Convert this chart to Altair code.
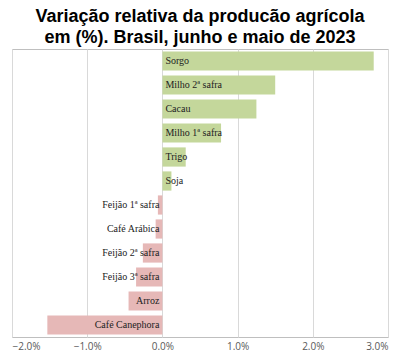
import altair as alt
import pandas as pd

categories = ["Sorgo", "Milho 2ª safra", "Cacau", "Milho 1ª safra", "Trigo", "Soja",
              "Feijão 1ª safra", "Café Arábica", "Feijão 2ª safra", "Feijão 3ª safra",
              "Arroz", "Café Canephora"]
values = [2.81, 1.50, 1.25, 0.78, 0.31, 0.12, -0.06, -0.09, -0.26, -0.35, -0.45, -1.53]
ticks = [-2, -1, 0, 1, 2, 3]

df = pd.DataFrame({"cat": categories, "val": values})
df["sign"] = ["pos" if v >= 0 else "neg" for v in values]

y = alt.Y("cat:N", sort=categories, axis=None,
          scale=alt.Scale(paddingInner=0.2, paddingOuter=0.1))
x = alt.X("val:Q", scale=alt.Scale(domain=[-2, 3], nice=False),
          axis=alt.Axis(values=ticks, title=None, labelExpr="format(datum.value, '.1f') + '%'",
                        grid=True, gridColor="#d9d9d9", domain=False, ticks=False,
                        labelColor="#595959", labelFont="Open Sans", labelFontSize=10,
                        labelPadding=4))

bars = alt.Chart(df).mark_bar().encode(
    x=x, y=y,
    color=alt.Color("sign:N", scale=alt.Scale(domain=["pos", "neg"], range=["#c4d79b", "#e6b8b7"]),
                    legend=None),
)

pos_txt = alt.Chart(df).transform_filter("datum.val >= 0").mark_text(
    align="left", dx=3, font="Liberation Serif", fontSize=10, color="#222222"
).encode(x=alt.X("zero:Q"), y=y, text="cat:N").transform_calculate(zero="0")

neg_txt = alt.Chart(df).transform_filter("datum.val < 0").mark_text(
    align="right", dx=-3, font="Liberation Serif", fontSize=10, color="#222222"
).encode(x=alt.X("zero:Q"), y=y, text="cat:N").transform_calculate(zero="0")

chart = alt.layer(bars, pos_txt, neg_txt).properties(
    width=376, height=288,
    title=alt.TitleParams(
        ["Variação relativa da producão agrícola", "em (%). Brasil, junho e maio de 2023"],
        font="Liberation Sans", fontSize=18, fontWeight="bold", color="#000000",
        anchor="middle", lineHeight=21, offset=2),
    autosize=alt.AutoSizeParams(type="none"),
    padding={"left": 4, "top": 41, "right": 10, "bottom": 25},
).configure_view(stroke="#bfbfbf", strokeWidth=1)

chart.save("out.html", embed_options={"renderer": "svg", "actions": False})
